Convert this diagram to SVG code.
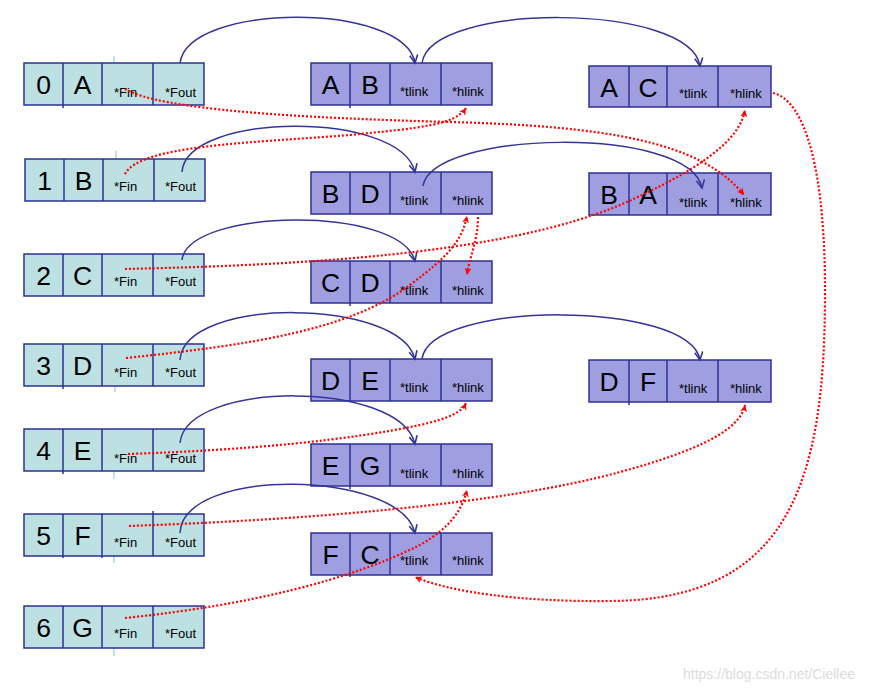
<svg xmlns="http://www.w3.org/2000/svg" width="888" height="693" viewBox="0 0 888 693">
<style>
.v{fill:#bde0e3;stroke:#2e3192;stroke-width:1.5}
.a{fill:#9e9ee0;stroke:#2e3192;stroke-width:1.5}
.d{stroke:#2e3192;stroke-width:1.5}
.big{font-family:"Liberation Sans",Arial,sans-serif;font-size:26.5px;fill:#000;text-anchor:middle}
.sm{font-family:"Liberation Sans",Arial,sans-serif;font-size:13px;fill:#000}
.blue{fill:none;stroke:#353597;stroke-width:1.5;marker-end:url(#ab)}
.red{fill:none;stroke:#ff0000;stroke-width:2.2;stroke-dasharray:2 2;marker-end:url(#ar)}
.tick{stroke:#a8d8e0;stroke-width:1.5}
.wm{font-family:"Liberation Sans",Arial,sans-serif;font-size:14px;fill:#dcdcdc}
</style>
<defs>
<marker id="ab" markerUnits="userSpaceOnUse" markerWidth="12" markerHeight="12" refX="9" refY="5" orient="auto">
<path d="M1,1 L9,5 L1,9" fill="none" stroke="#353597" stroke-width="1.6"/>
</marker>
<marker id="ar" markerUnits="userSpaceOnUse" markerWidth="10" markerHeight="10" refX="7" refY="4" orient="auto">
<path d="M0,0.5 L7,4 L0,7.5 L2,4 z" fill="#ff0000"/>
</marker>
</defs>

<g id="ticks">
<line class="tick" x1="114" y1="56" x2="114" y2="63"/>
<line class="tick" x1="116" y1="151" x2="116" y2="159"/>
<line class="tick" x1="115" y1="386" x2="115" y2="392"/>
<line class="tick" x1="114" y1="471" x2="114" y2="479"/>
<line class="tick" x1="114" y1="555" x2="114" y2="563"/>
<line class="tick" x1="114" y1="648" x2="114" y2="656"/>
<line class="d" x1="63" y1="105" x2="63" y2="108"/>
<line class="d" x1="63" y1="386" x2="63" y2="389"/>
<line class="d" x1="63" y1="471" x2="63" y2="474"/>
<line class="d" x1="63" y1="555" x2="63" y2="558"/>
<line class="d" x1="102" y1="555" x2="102" y2="558"/>
<line class="d" x1="153" y1="511" x2="153" y2="514"/>
<line class="d" x1="350" y1="105" x2="350" y2="108"/>
<line class="d" x1="350" y1="303" x2="350" y2="306"/>
<line class="d" x1="350" y1="486" x2="350" y2="489"/>
<line class="d" x1="350" y1="574" x2="350" y2="577"/>
<line class="d" x1="629" y1="402" x2="629" y2="405"/>
</g>

<g id="v0" transform="translate(24,63)">
<rect class="v" x="0" y="0" width="180" height="42"/>
<line class="d" x1="39" y1="0" x2="39" y2="42"/><line class="d" x1="78" y1="0" x2="78" y2="42"/><line class="d" x1="129" y1="0" x2="129" y2="42"/>
<text class="big" x="19.5" y="31">0</text><text class="big" x="58.5" y="31">A</text>
<text class="sm" x="90" y="34">*Fin</text><text class="sm" x="141" y="34">*Fout</text>
</g>
<g id="v1" transform="translate(25,159)">
<rect class="v" x="0" y="0" width="180" height="42"/>
<line class="d" x1="39" y1="0" x2="39" y2="42"/><line class="d" x1="78" y1="0" x2="78" y2="42"/><line class="d" x1="129" y1="0" x2="129" y2="42"/>
<text class="big" x="19.5" y="31">1</text><text class="big" x="58.5" y="31">B</text>
<text class="sm" x="89" y="32">*Fin</text><text class="sm" x="140" y="32">*Fout</text>
</g>
<g id="v2" transform="translate(24,254)">
<rect class="v" x="0" y="0" width="180" height="42"/>
<line class="d" x1="39" y1="0" x2="39" y2="42"/><line class="d" x1="78" y1="0" x2="78" y2="42"/><line class="d" x1="129" y1="0" x2="129" y2="42"/>
<text class="big" x="19.5" y="31">2</text><text class="big" x="58.5" y="31">C</text>
<text class="sm" x="90" y="32">*Fin</text><text class="sm" x="141" y="32">*Fout</text>
</g>
<g id="v3" transform="translate(24,344)">
<rect class="v" x="0" y="0" width="180" height="42"/>
<line class="d" x1="39" y1="0" x2="39" y2="42"/><line class="d" x1="78" y1="0" x2="78" y2="42"/><line class="d" x1="129" y1="0" x2="129" y2="42"/>
<text class="big" x="19.5" y="31">3</text><text class="big" x="58.5" y="31">D</text>
<text class="sm" x="90" y="33">*Fin</text><text class="sm" x="141" y="33">*Fout</text>
</g>
<g id="v4" transform="translate(24,429)">
<rect class="v" x="0" y="0" width="180" height="42"/>
<line class="d" x1="39" y1="0" x2="39" y2="42"/><line class="d" x1="78" y1="0" x2="78" y2="42"/><line class="d" x1="129" y1="0" x2="129" y2="42"/>
<text class="big" x="19.5" y="31">4</text><text class="big" x="58.5" y="31">E</text>
<text class="sm" x="90" y="34">*Fin</text><text class="sm" x="141" y="34">*Fout</text>
</g>
<g id="v5" transform="translate(24,514)">
<rect class="v" x="0" y="0" width="180" height="42"/>
<line class="d" x1="39" y1="0" x2="39" y2="42"/><line class="d" x1="78" y1="0" x2="78" y2="42"/><line class="d" x1="129" y1="0" x2="129" y2="42"/>
<text class="big" x="19.5" y="31">5</text><text class="big" x="58.5" y="31">F</text>
<text class="sm" x="90" y="33">*Fin</text><text class="sm" x="141" y="33">*Fout</text>
</g>
<g id="v6" transform="translate(24,606)">
<rect class="v" x="0" y="0" width="180" height="42"/>
<line class="d" x1="39" y1="0" x2="39" y2="42"/><line class="d" x1="78" y1="0" x2="78" y2="42"/><line class="d" x1="129" y1="0" x2="129" y2="42"/>
<text class="big" x="19.5" y="31">6</text><text class="big" x="58.5" y="31">G</text>
<text class="sm" x="90" y="32">*Fin</text><text class="sm" x="141" y="32">*Fout</text>
</g>

<g id="aAB" transform="translate(311,63)">
<rect class="a" x="0" y="0" width="181" height="42"/>
<line class="d" x1="39" y1="0" x2="39" y2="42"/><line class="d" x1="79" y1="0" x2="79" y2="42"/><line class="d" x1="130" y1="0" x2="130" y2="42"/>
<text class="big" x="19.5" y="31">A</text><text class="big" x="59" y="31">B</text>
<text class="sm" x="89" y="33">*tlink</text><text class="sm" x="141" y="33">*hlink</text>
</g>
<g id="aBD" transform="translate(311,172)">
<rect class="a" x="0" y="0" width="181" height="42"/>
<line class="d" x1="39" y1="0" x2="39" y2="42"/><line class="d" x1="79" y1="0" x2="79" y2="42"/><line class="d" x1="130" y1="0" x2="130" y2="42"/>
<text class="big" x="19.5" y="31">B</text><text class="big" x="59" y="31">D</text>
<text class="sm" x="89" y="33">*tlink</text><text class="sm" x="141" y="33">*hlink</text>
</g>
<g id="aCD" transform="translate(311,261)">
<rect class="a" x="0" y="0" width="181" height="42"/>
<line class="d" x1="39" y1="0" x2="39" y2="42"/><line class="d" x1="79" y1="0" x2="79" y2="42"/><line class="d" x1="130" y1="0" x2="130" y2="42"/>
<text class="big" x="19.5" y="31">C</text><text class="big" x="59" y="31">D</text>
<text class="sm" x="89" y="34">*tlink</text><text class="sm" x="141" y="34">*hlink</text>
</g>
<g id="aDE" transform="translate(311,359)">
<rect class="a" x="0" y="0" width="181" height="42"/>
<line class="d" x1="39" y1="0" x2="39" y2="42"/><line class="d" x1="79" y1="0" x2="79" y2="42"/><line class="d" x1="130" y1="0" x2="130" y2="42"/>
<text class="big" x="19.5" y="31">D</text><text class="big" x="59" y="31">E</text>
<text class="sm" x="89" y="33">*tlink</text><text class="sm" x="141" y="33">*hlink</text>
</g>
<g id="aEG" transform="translate(311,444)">
<rect class="a" x="0" y="0" width="181" height="42"/>
<line class="d" x1="39" y1="0" x2="39" y2="42"/><line class="d" x1="79" y1="0" x2="79" y2="42"/><line class="d" x1="130" y1="0" x2="130" y2="42"/>
<text class="big" x="19.5" y="31">E</text><text class="big" x="59" y="31">G</text>
<text class="sm" x="89" y="34">*tlink</text><text class="sm" x="141" y="34">*hlink</text>
</g>
<g id="aFC" transform="translate(311,533)">
<rect class="a" x="0" y="0" width="181" height="42"/>
<line class="d" x1="39" y1="0" x2="39" y2="42"/><line class="d" x1="79" y1="0" x2="79" y2="42"/><line class="d" x1="130" y1="0" x2="130" y2="42"/>
<text class="big" x="19.5" y="31">F</text><text class="big" x="59" y="31">C</text>
<text class="sm" x="89" y="32">*tlink</text><text class="sm" x="141" y="32">*hlink</text>
</g>
<g id="aAC" transform="translate(589,66)">
<rect class="a" x="0" y="0" width="182" height="41"/>
<line class="d" x1="40" y1="0" x2="40" y2="41"/><line class="d" x1="78" y1="0" x2="78" y2="41"/><line class="d" x1="129" y1="0" x2="129" y2="41"/>
<text class="big" x="20" y="31">A</text><text class="big" x="59" y="31">C</text>
<text class="sm" x="90" y="32">*tlink</text><text class="sm" x="141" y="32">*hlink</text>
</g>
<g id="aBA" transform="translate(589,173)">
<rect class="a" x="0" y="0" width="182" height="42"/>
<line class="d" x1="40" y1="0" x2="40" y2="42"/><line class="d" x1="78" y1="0" x2="78" y2="42"/><line class="d" x1="129" y1="0" x2="129" y2="42"/>
<text class="big" x="20" y="31">B</text><text class="big" x="59" y="31">A</text>
<text class="sm" x="90" y="34">*tlink</text><text class="sm" x="141" y="34">*hlink</text>
</g>
<g id="aDF" transform="translate(589,360)">
<rect class="a" x="0" y="0" width="182" height="42"/>
<line class="d" x1="40" y1="0" x2="40" y2="42"/><line class="d" x1="78" y1="0" x2="78" y2="42"/><line class="d" x1="129" y1="0" x2="129" y2="42"/>
<text class="big" x="20" y="31">D</text><text class="big" x="59" y="31">F</text>
<text class="sm" x="90" y="33">*tlink</text><text class="sm" x="141" y="33">*hlink</text>
</g>

<g id="connectors">
<path class="blue" d="M180,63 C188,2 405,2 415,63"/>
<path class="blue" d="M422,63 C430,2 690,2 700,66"/>
<path class="blue" d="M182,172 C186,112 400,110 415,172"/>
<path class="blue" d="M423,186 C432,130 690,125 702,188"/>
<path class="blue" d="M182,260 C188,208 400,205 415,261"/>
<path class="blue" d="M180,360 C184,296 400,298 415,359"/>
<path class="blue" d="M422,359 C430,300 690,300 700,360"/>
<path class="blue" d="M180,443 C186,380 400,380 415,444"/>
<path class="blue" d="M180,533 C183,466 400,470 415,533"/>

<path class="red" d="M125,89 C160,110 300,118 450,122 C600,126 700,140 744,195"/>
<path class="red" d="M125,174 C140,145 250,143 350,135 C420,128 455,125 466,108"/>
<path class="red" d="M125,269 C300,265 500,255 620,205 C700,170 740,140 745,110"/>
<path class="red" d="M126,358 C250,345 350,330 410,285 C450,255 462,240 467,216"/>
<path class="red" d="M478,217 C478,240 470,255 467,275"/>
<path class="red" d="M128,454 C250,450 350,440 420,425 C450,418 462,412 466,403"/>
<path class="red" d="M129,526 C300,520 500,505 620,472 C700,450 740,430 745,405"/>
<path class="red" d="M125,618 C250,605 350,580 420,545 C450,528 462,510 467,490"/>
<path class="red" d="M773,93 C805,100 826,170 825,300 C824,480 790,600 610,601 C520,602 450,592 415,577"/>
</g>

<text class="wm" x="683" y="679">https://blog.csdn.net/Ciellee</text>
</svg>
